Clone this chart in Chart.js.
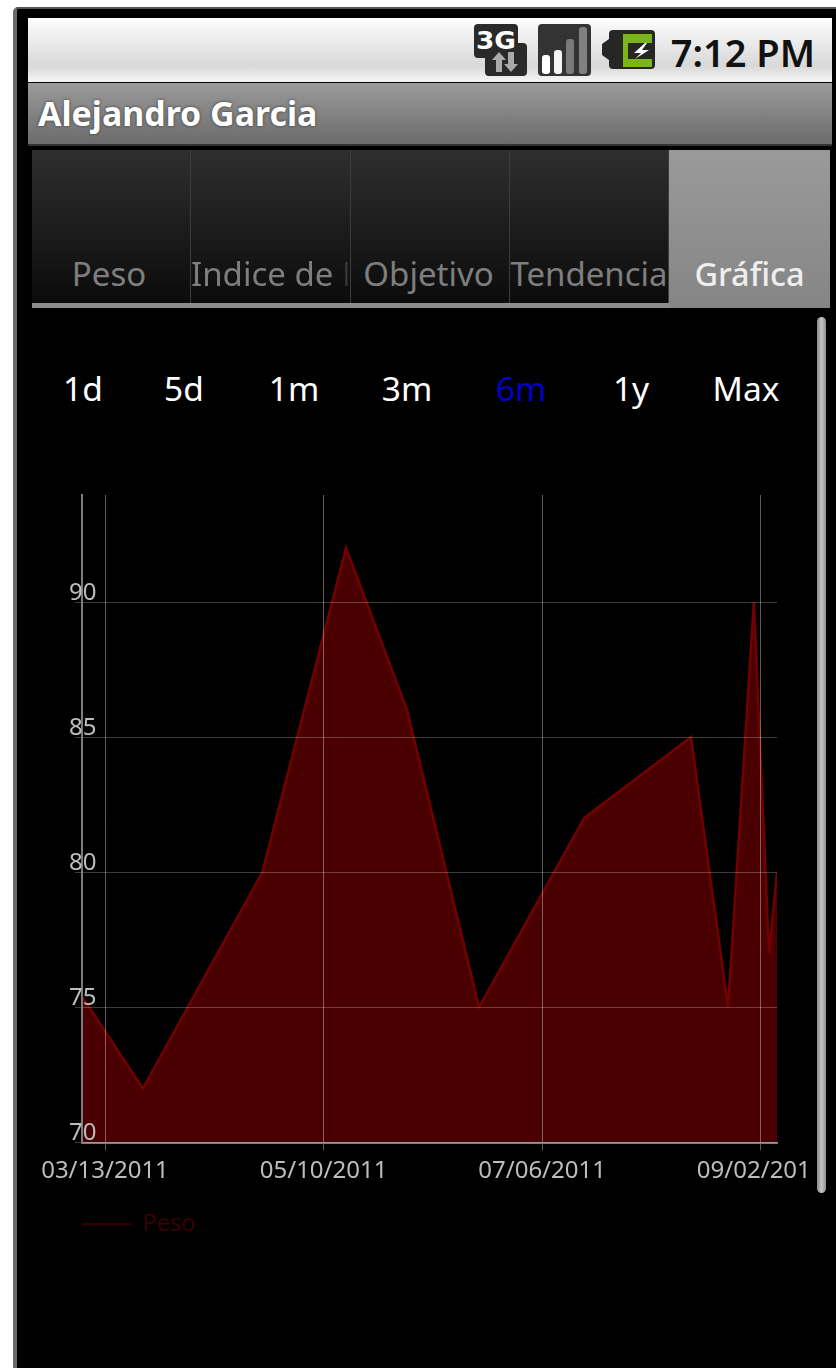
<!DOCTYPE html>
<html>
<head>
<meta charset="utf-8">
<title>Peso</title>
<script src="https://cdn.jsdelivr.net/npm/chart.js@4/dist/chart.umd.min.js"></script>
<style>
  html, body { margin:0; padding:0; background:#fff; overflow:hidden; }
  body { width:836px; height:1368px; position:relative; font-family:"Noto Sans","Open Sans",sans-serif; }
  #frame { position:absolute; left:13px; top:7px; right:0; bottom:0; background:#000; border-left:4px solid #6a6a6a; border-top:2px solid #555; border-top-left-radius:5px; }
  #status { position:absolute; left:28px; top:18px; width:804px; height:64px; background:linear-gradient(#fdfdfd 0%,#ececec 35%,#d8d8d8 75%,#f6f6f6 100%); }
  #clock { position:absolute; right:17px; top:9px; font-size:38px; line-height:50px; font-weight:600; color:#111; }
  #icons { position:absolute; left:0; top:0; }
  #title { position:absolute; left:28px; top:83px; width:804px; height:63px; background:linear-gradient(#9a9a9a,#7e7e7e 60%,#6c6c6c); border-bottom:2px solid #333; box-sizing:border-box; color:#fff; font-size:33.9px; font-weight:700; line-height:60px; padding-left:10px; text-shadow:0 0 3px #333; }
  #tabs { position:absolute; left:32px; top:150px; width:798px; height:158px; background:#8c8c8c; }
  .tab { position:absolute; top:0; height:153px; background:linear-gradient(#2e2e2e,#1d1d1d 50%,#0b0b0b); border-right:1px solid #3c3c3c; box-sizing:border-box; color:#7e7e7e; font-size:33px; line-height:44px; padding-top:102px; text-align:center; overflow:hidden; white-space:nowrap; }
  .tab.on { background:linear-gradient(#9a9a9a,#858585); color:#eee; height:158px; border:0; font-weight:500; font-size:32.5px; }
  .tab .cut { display:block; width:160px; -webkit-mask-image:linear-gradient(90deg,#000 142px,transparent 145px,transparent 151px,rgba(0,0,0,.35) 153px,rgba(0,0,0,.35) 156px,transparent 157px); mask-image:linear-gradient(90deg,#000 142px,transparent 145px,transparent 151px,rgba(0,0,0,.35) 153px,rgba(0,0,0,.35) 156px,transparent 157px); }
  .range { position:absolute; top:365px; transform:translateX(-50%); color:#fff; font-size:33.5px; line-height:46px; }
  #scrollbar { position:absolute; left:817px; top:317px; width:9px; height:876px; border-radius:5px; background:linear-gradient(90deg,#8a8a8a,#c4c4c4 50%,#8f8f8f); }
  #chart-box { position:absolute; left:0; top:480px; width:808px; height:770px; }
</style>
</head>
<body>
<div id="frame"></div>
<div id="status">
  <svg id="icons" width="804" height="64" viewBox="0 0 804 64">
    <g transform="translate(-28,-18)">
      <path d="M478 24 h36 a4 4 0 0 1 4 4 v15 h5 a4 4 0 0 1 4 4 v25 a4 4 0 0 1 -4 4 h-34 a4 4 0 0 1 -4 -4 v-14 h-7 a4 4 0 0 1 -4 -4 v-26 a4 4 0 0 1 4 -4z" fill="#2a2a2a"/>
      <text x="476" y="49" font-family="DejaVu Sans" font-weight="700" font-size="24" fill="#fff" textLength="40" lengthAdjust="spacingAndGlyphs">3G</text>
      <path d="M499 52 l-7 8 h4 v12 h6 v-12 h4z M511 72 l7 -8 h-4 v-12 h-6 v12 h-4z" fill="#aaa"/>
      <rect x="538" y="24" width="53" height="52" rx="4" fill="#333"/>
      <rect x="542" y="55" width="8" height="19" rx="3" fill="#fff"/>
      <rect x="554" y="50" width="8" height="24" rx="3" fill="#f4f4f4"/>
      <rect x="566" y="39" width="8" height="35" rx="3" fill="#7a7a7a"/>
      <rect x="579" y="27" width="8" height="47" rx="3" fill="#808080"/>
      <path d="M602 44 l7 -5 v-5 a4 4 0 0 1 4 -4 h38 a4 4 0 0 1 4 4 v31 a4 4 0 0 1 -4 4 h-38 a4 4 0 0 1 -4 -4 v-5 l-7 -5z" fill="#262626"/>
      <path d="M623 34 h29 v9 h-24 v16 h24 v8 h-29z" fill="#7cb518"/>
      <path d="M645 43 l-11 10 h7 l-6 6 l14 -9 h-7 l5 -7z" fill="#fff"/>
    </g>
  </svg>
  <div id="clock">7:12 PM</div>
</div>
<div id="title">Alejandro Garcia</div>
<div id="tabs">
  <div class="tab" style="left:0;width:159px;padding-right:4px">Peso</div>
  <div class="tab" style="left:159px;width:160px;text-align:left"><span class="cut">Indice de M</span></div>
  <div class="tab" style="left:319px;width:159px;padding-right:3px">Objetivo</div>
  <div class="tab" style="left:478px;width:159px">Tendencia</div>
  <div class="tab on" style="left:637px;width:161px">Gráfica</div>
</div>
<div class="range" style="left:83px">1d</div>
<div class="range" style="left:184px">5d</div>
<div class="range" style="left:294px">1m</div>
<div class="range" style="left:407px">3m</div>
<div class="range" style="left:521px;color:#0000c8">6m</div>
<div class="range" style="left:631px">1y</div>
<div class="range" style="left:746px">Max</div>
<div id="scrollbar"></div>
<div id="chart-box"><canvas id="chart"></canvas></div>

<script>
// days counted from 03/13/2011
const dayOffsets = [-6, 10, 41.5, 63.6, 79.7, 98.7, 126.4, 154.6, 164.4, 171.2, 175.2, 177.3];
const pesoValues = [75.4, 72, 80, 92, 86, 75, 82, 85, 75, 90, 77, 80];
const xTickDays = [0, 57.67, 115.33, 173];
const xTickLabels = ['03/13/2011', '05/10/2011', '07/06/2011', '09/02/2011'];
const yTickValues = [70, 75, 80, 85, 90];
const seriesName = 'Peso';

const tickFont = { family: '"Noto Sans"', size: 24 };

new Chart(document.getElementById('chart'), {
  type: 'line',
  data: {
    datasets: [{
      label: seriesName,
      data: dayOffsets.map((d, i) => ({ x: d, y: pesoValues[i] })),
      borderColor: '#720000',
      backgroundColor: '#4a0000',
      borderWidth: 2.5,
      fill: 'start',
      tension: 0,
      pointRadius: 0,
    }],
  },
  options: {
    responsive: true,
    maintainAspectRatio: false,
    animation: false,
    layout: { padding: { left: 82, right: 31, top: 15, bottom: 4 } },
    plugins: {
      tooltip: { enabled: false },
      legend: {
        position: 'bottom',
        align: 'start',
        labels: {
          boxWidth: 49, boxHeight: 2, padding: 0,
          color: '#3a0000',
          font: { family: '"Noto Sans"', size: 23.5 },
          generateLabels: () => [{ text: seriesName, fillStyle: '#3a0000', strokeStyle: '#3a0000', lineWidth: 0, fontColor: '#3a0000' }],
        },
      },
    },
    scales: {
      x: {
        type: 'linear',
        min: -6.07,
        max: 177.3,
        afterBuildTicks: (s) => { s.ticks = xTickDays.map((v) => ({ value: v })); },
        afterFit: (s) => { s.paddingLeft = 0; s.paddingRight = 0; s.height = 70; },
        grid: { color: 'rgba(255,255,255,.36)', lineWidth: 1, tickLength: 8, z: 1 },
        border: { color: '#7c7c7c', width: 2, z: 1 },
        ticks: {
          autoSkip: false, maxRotation: 0, minRotation: 0, padding: 6,
          color: '#bdbdbd', font: tickFont,
          callback: (v, i) => xTickLabels[i],
        },
      },
      y: {
        min: 70,
        max: 93.96,
        afterBuildTicks: (s) => { s.ticks = yTickValues.map((v) => ({ value: v })); },
        afterFit: (s) => { s.width = 0; },
        grid: { color: 'rgba(255,255,255,.24)', lineWidth: 1, tickLength: 7, z: 1 },
        border: { color: '#7c7c7c', width: 2, z: 1 },
        ticks: {
          mirror: true, padding: -13, labelOffset: -9, z: 2, color: '#bdbdbd', font: tickFont,
          callback: (v) => String(v),
        },
      },
    },
  },
});
</script>
</body>
</html>
